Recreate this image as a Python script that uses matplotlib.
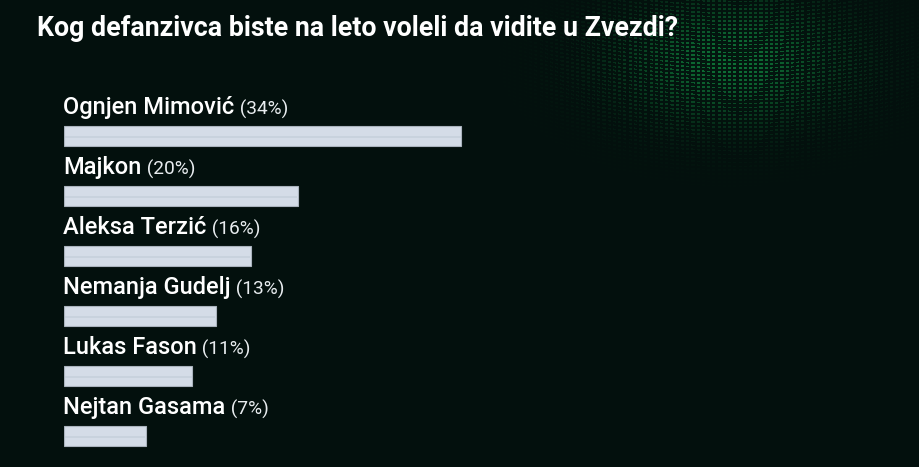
import matplotlib
matplotlib.use("Agg")
import matplotlib.pyplot as plt
import numpy as np

# ---------------------------------------------------------------------------
# Data
# ---------------------------------------------------------------------------
title = "Kog defanzivca biste na leto voleli da vidite u Zvezdi?"
players = ["Ognjen Mimović", "Majkon", "Aleksa Terzić", "Nemanja Gudelj",
           "Lukas Fason", "Nejtan Gasama"]
percents = [34, 20, 16, 13, 11, 7]

BG = "#03100d"
BAR = "#d4dce7"
BAR_EDGE = "#aab3bd"
STRIPE = "#c6d0dc"

W, H = 920, 467
fig = plt.figure(figsize=(W / 100, H / 100), dpi=100, facecolor=BG)

# decorative green dotted glow, top right
bg = fig.add_axes([0, 0, 1, 1])
bg.set_axis_off()
yy, xx = np.mgrid[0:H, 0:W]
glow = np.exp(-(((xx - 730) / 110.0) ** 2 + ((yy - 60) / 60.0) ** 2))
curve = yy + 0.0006 * (xx - 740) ** 2
dots = ((np.sin(curve * 1.6) > 0.2) & (np.sin(xx * 1.2) > -0.3)).astype(float)
img = np.zeros((H, W, 4))
img[..., 0] = 0.08
img[..., 1] = 0.65
img[..., 2] = 0.30
img[..., 3] = glow * (0.05 + 0.6 * dots)
bg.imshow(img, extent=(0, W, H, 0), aspect="auto", interpolation="bilinear")
bg.set_xlim(0, W)
bg.set_ylim(H, 0)

# bar axes: x in percent, 11.68 px per percent starting at pixel 64
px_per_pct = 11.68
left = 64
ax = fig.add_axes([left / W, 0, 1 - left / W, 1])
ax.set_axis_off()
ax.set_xlim(0, (W - left) / px_per_pct)
# category i centred at pixel 136 + 60 i
ax.set_ylim((H - 136) / 60.0, -136 / 60.0)

ypos = np.arange(len(players))
ax.barh(ypos, percents, height=20 / 60, color=BAR, edgecolor=BAR_EDGE,
        linewidth=0.8)
ax.hlines(ypos + 0.02, 0.05, np.array(percents) - 0.05, color=STRIPE,
          linewidth=1.2)

for y, name, p in zip(ypos, players, percents):
    t = ax.text(-0.05, y - 22 / 60, name, color="white", fontsize=17,
                family="Roboto", weight="medium", va="baseline", ha="left")
    ax.annotate(f" ({p}%)", xy=(1, 0), xycoords=t, color="#e8ecef",
                fontsize=13.8, family="Roboto",
                va="bottom", ha="left")

fig.text(37 / W, 1 - 36.5 / H, title, color="white", fontsize=19.3,
         family="Roboto", weight="bold", va="baseline", ha="left")

fig.savefig("out.png", dpi=100, facecolor=BG)
